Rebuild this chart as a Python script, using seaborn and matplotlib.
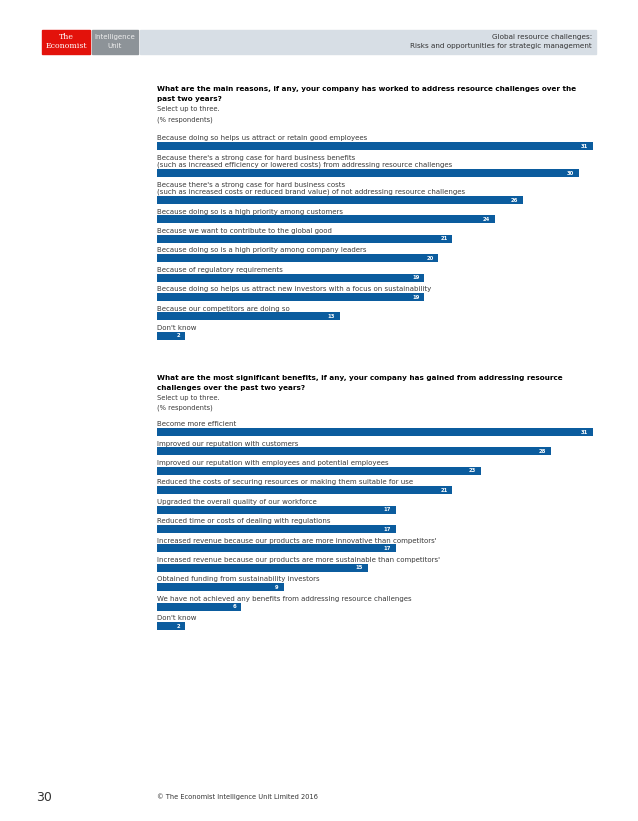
import numpy as np
import pandas as pd
import matplotlib
matplotlib.use("Agg")
import matplotlib.pyplot as plt
import seaborn as sns
from matplotlib.patches import Rectangle

sns.set_theme(style="white")
plt.rcParams['font.family'] = ['DejaVu Sans']

# ---------------- data ----------------
title1 = ["What are the main reasons, if any, your company has worked to address resource challenges over the",
          "past two years?"]
labels1 = [
    "Because doing so helps us attract or retain good employees",
    "Because there's a strong case for hard business benefits\n(such as increased efficiency or lowered costs) from addressing resource challenges",
    "Because there's a strong case for hard business costs\n(such as increased costs or reduced brand value) of not addressing resource challenges",
    "Because doing so is a high priority among customers",
    "Because we want to contribute to the global good",
    "Because doing so is a high priority among company leaders",
    "Because of regulatory requirements",
    "Because doing so helps us attract new investors with a focus on sustainability",
    "Because our competitors are doing so",
    "Don't know",
]
values1 = [31, 30, 26, 24, 21, 20, 19, 19, 13, 2]

title2 = ["What are the most significant benefits, if any, your company has gained from addressing resource",
          "challenges over the past two years?"]
labels2 = [
    "Become more efficient",
    "Improved our reputation with customers",
    "Improved our reputation with employees and potential employees",
    "Reduced the costs of securing resources or making them suitable for use",
    "Upgraded the overall quality of our workforce",
    "Reduced time or costs of dealing with regulations",
    "Increased revenue because our products are more innovative than competitors'",
    "Increased revenue because our products are more sustainable than competitors'",
    "Obtained funding from sustainability investors",
    "We have not achieved any benefits from addressing resource challenges",
    "Don't know",
]
values2 = [31, 28, 23, 21, 17, 17, 17, 15, 9, 6, 2]

subtitle = ["Select up to three.", "(% respondents)"]
header_lines = ["Global resource challenges:", "Risks and opportunities for strategic management"]
footer_page = "30"
footer_text = "\u00a9 The Economist Intelligence Unit Limited 2016"

# ---------------- style / layout ----------------
W, H, DPI = 638, 821, 100
BAR_BLUE = "#0b5c9e"
TEXT_GREY = "#3a3a3a"
PX_PER_UNIT = 14.07      # horizontal scale
BAR_X0 = 157             # left edge of bars (px)
ROW_PX = 19.4            # row pitch for single-line label
EXTRA_LINE_PX = 7.6      # extra pitch for each additional label line
BAR_PX = 8.0             # bar thickness

fig = plt.figure(figsize=(W / DPI, H / DPI), dpi=DPI)
fig.patch.set_facecolor("white")
ax = fig.add_axes([0, 0, 1, 1])


def fx(px):
    return px / W


def fy(py):
    return 1 - py / H


def row_centers(labels, first_center):
    centers = []
    c = first_center
    for i, lab in enumerate(labels):
        if i > 0:
            c += ROW_PX + EXTRA_LINE_PX * lab.count("\n")
        centers.append(c)
    return centers


def draw_chart(labels, values, first_center, title, title_y):
    centers = row_centers(labels, first_center)
    df = pd.DataFrame({"label": labels, "value": values, "pos": centers})
    pitch = np.min(np.diff(centers))
    sns.barplot(data=df, x="value", y="pos", orient="h", native_scale=True,
                width=BAR_PX / pitch, color=BAR_BLUE, saturation=1,
                edgecolor="none", linewidth=0, ax=ax)
    for lab, v, c in zip(labels, values, centers):
        ax.text(0, c - BAR_PX / 2 - 0.8, lab, fontsize=5.0, color=TEXT_GREY,
                ha="left", va="bottom", linespacing=1.15)
        ax.text(v - 0.35, c + 0.2, str(v), fontsize=3.8, color="white",
                fontweight="bold", ha="right", va="center")
    # titles
    for i, t in enumerate(title):
        fig.text(fx(BAR_X0), fy(title_y + 9.5 * i), t, fontsize=5.2,
                 fontweight="bold", color="black", ha="left", va="center")
    for i, t in enumerate(subtitle):
        fig.text(fx(BAR_X0), fy(title_y + 20 + 10 * i), t, fontsize=4.9,
                 color=TEXT_GREY, ha="left", va="center")


draw_chart(labels1, values1, 146, title1, 89.5)
draw_chart(labels2, values2, 432, title2, 378)

ax.set_xlim(-BAR_X0 / PX_PER_UNIT, (W - BAR_X0) / PX_PER_UNIT)
ax.set_ylim(H, 0)
ax.axis("off")

# ---------------- header ----------------
fig.patches.append(Rectangle((fx(42), fy(54)), fx(90) - fx(42), fy(30) - fy(54),
                             transform=fig.transFigure, color="#e3120b", zorder=0))
fig.patches.append(Rectangle((fx(92), fy(54)), fx(138) - fx(92), fy(30) - fy(54),
                             transform=fig.transFigure, color="#8d9398", zorder=0))
fig.patches.append(Rectangle((fx(140), fy(54)), fx(596) - fx(140), fy(30) - fy(54),
                             transform=fig.transFigure, color="#d7dee5", zorder=0))
fig.text(fx(66), fy(37), "The", fontsize=5.6, color="white", family="DejaVu Serif",
         ha="center", va="center")
fig.text(fx(66), fy(46), "Economist", fontsize=5.6, color="white", family="DejaVu Serif",
         ha="center", va="center")
fig.text(fx(115), fy(37), "Intelligence", fontsize=5.0, color="#eeeeee",
         ha="center", va="center")
fig.text(fx(115), fy(46), "Unit", fontsize=5.0, color="#eeeeee",
         ha="center", va="center")
fig.text(fx(592), fy(36.5), header_lines[0], fontsize=5.2, color="#333333",
         ha="right", va="center")
fig.text(fx(592), fy(46), header_lines[1], fontsize=5.2, color="#333333",
         ha="right", va="center")

# ---------------- footer ----------------
fig.text(fx(36), fy(797), footer_page, fontsize=9, color="#333333",
         ha="left", va="center")
fig.text(fx(157), fy(797), footer_text, fontsize=4.8, color="#333333",
         ha="left", va="center")

fig.savefig("out.png", dpi=DPI, facecolor="white")
